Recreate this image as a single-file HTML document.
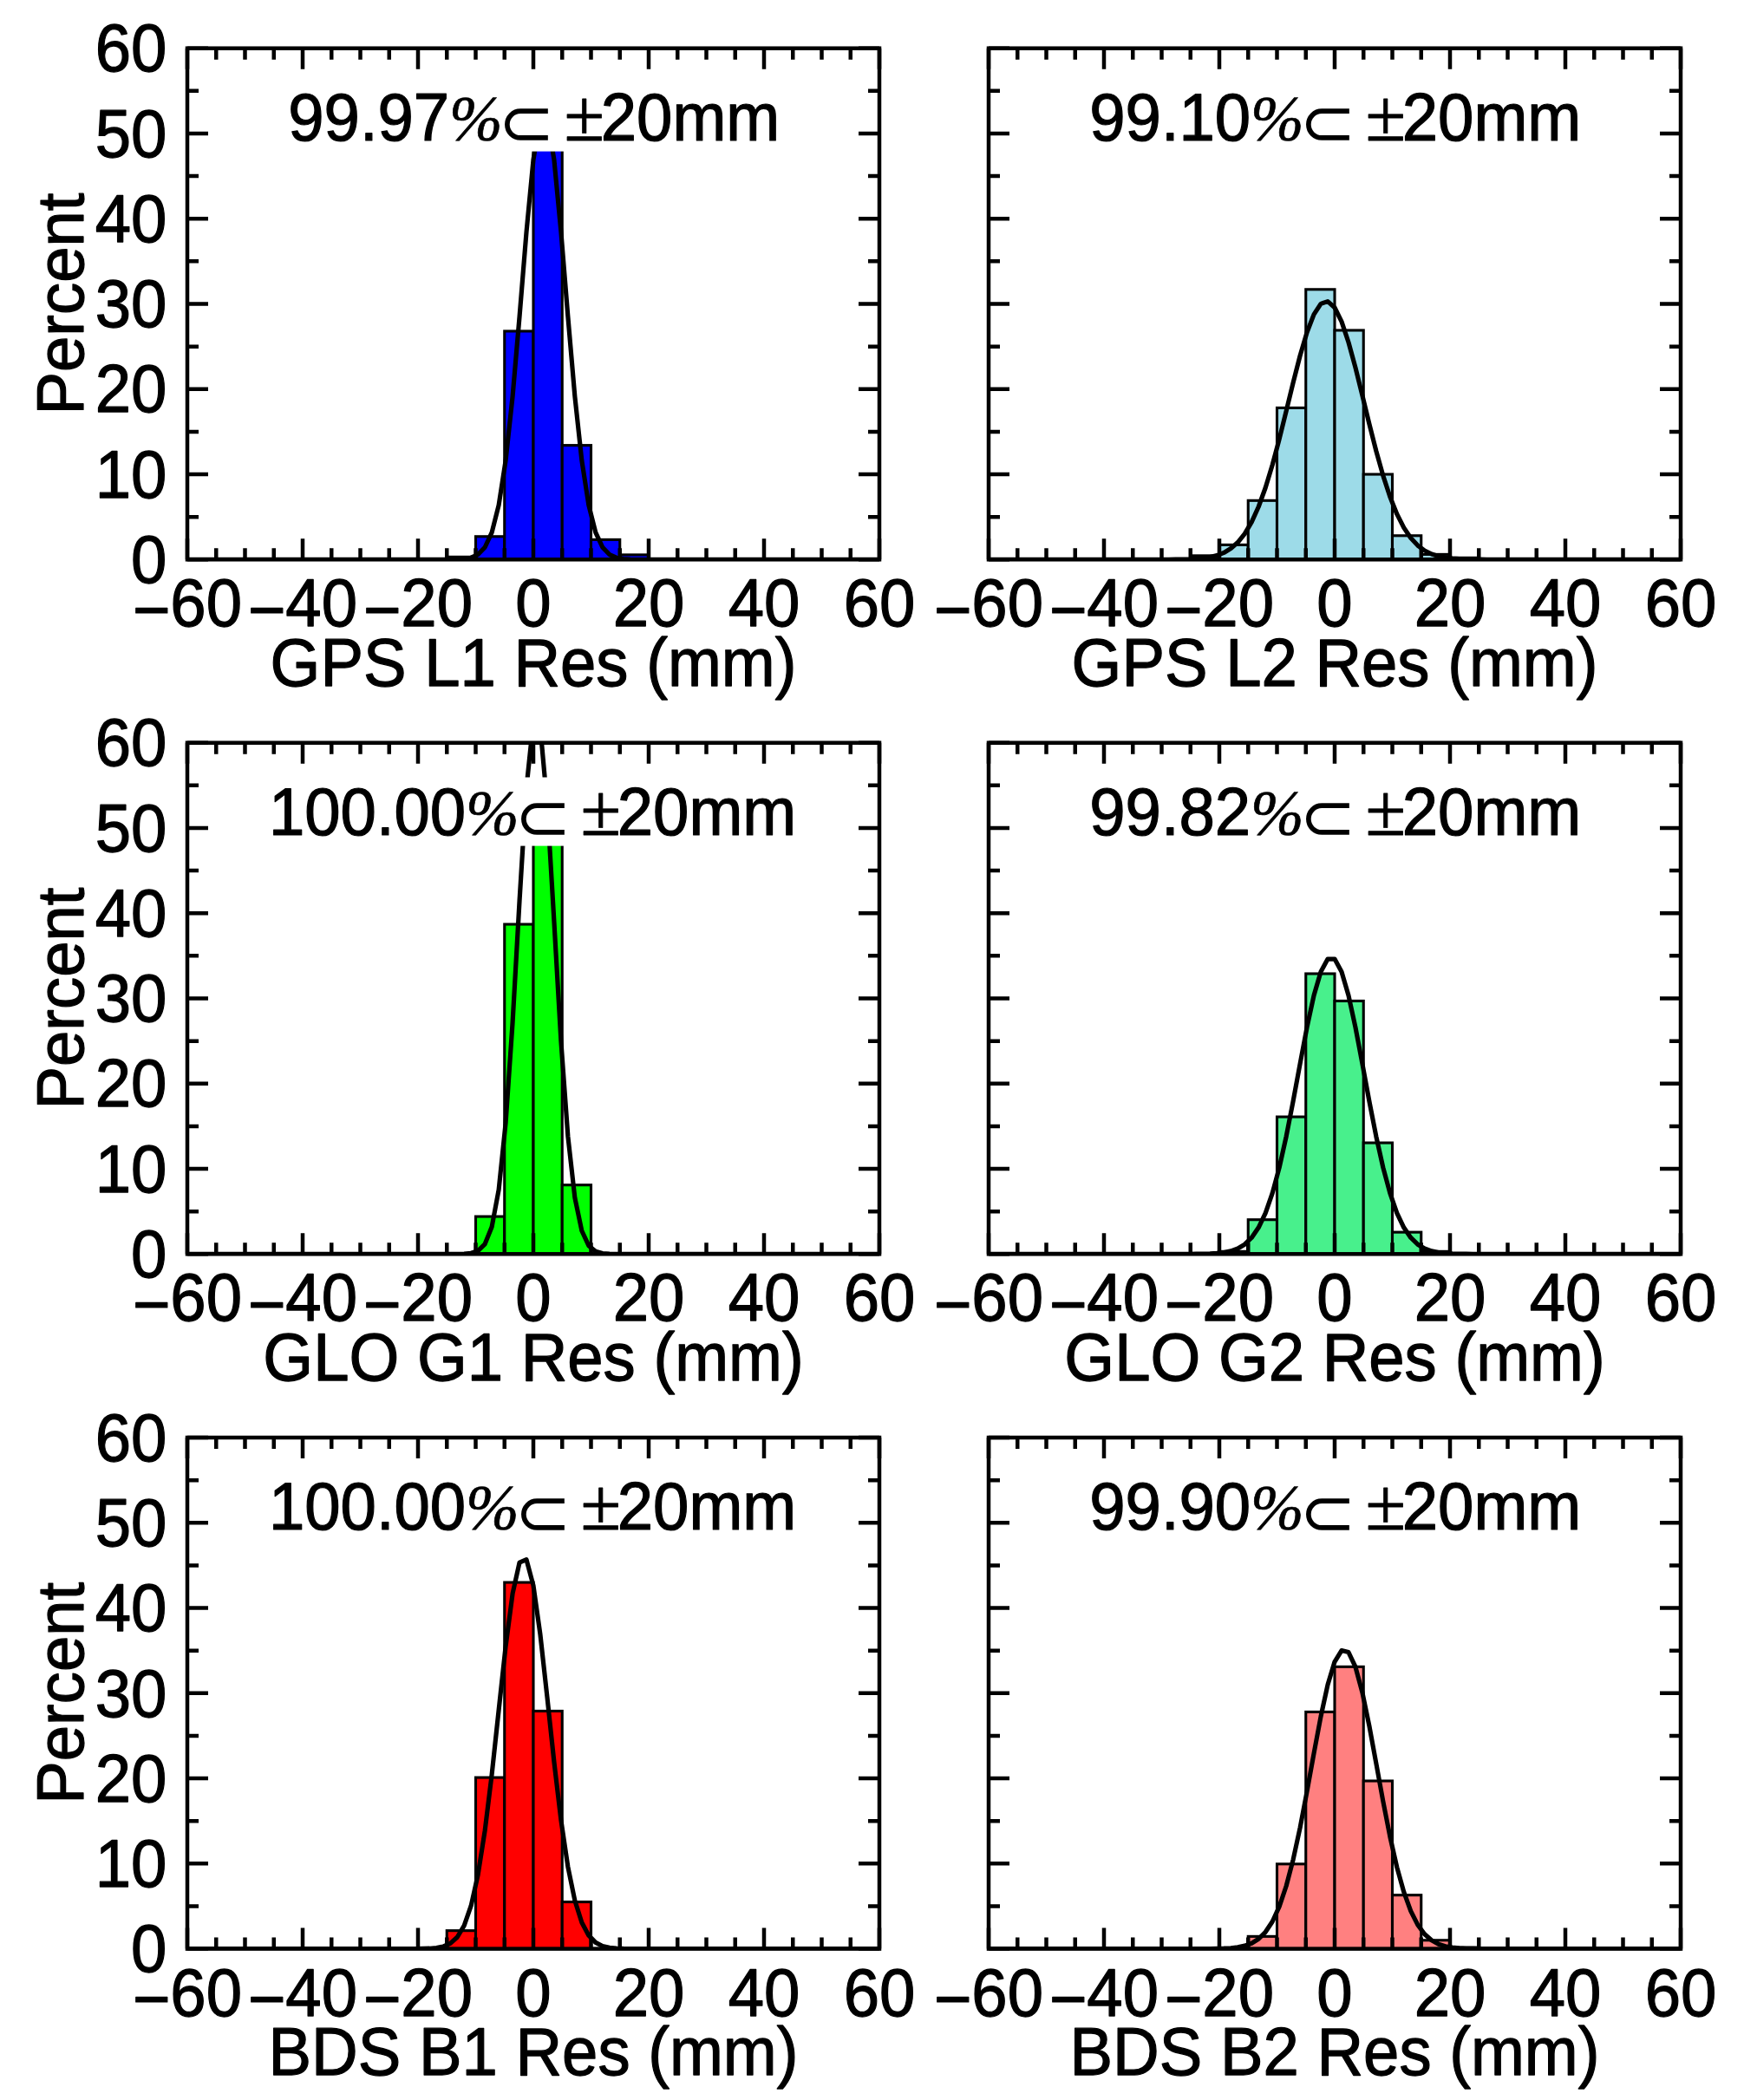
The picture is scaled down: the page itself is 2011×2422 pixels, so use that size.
<!DOCTYPE html>
<html><head><meta charset="utf-8"><title>Residual histograms</title>
<style>html,body{margin:0;padding:0;background:#fff}svg{display:block}text{font-family:"Liberation Sans",sans-serif;font-size:74.3px;fill:#000;stroke:#000;stroke-width:1.2;stroke-linejoin:round}.sy{font-family:"Liberation Serif",serif}.dj{font-family:"DejaVu Sans",sans-serif}.ns{stroke:none}</style></head><body>
<svg width="2011" height="2422" viewBox="0 0 2011 2422">
<rect width="2011" height="2422" fill="#fff"/>
<clipPath id="c0"><rect x="216" y="55.7" width="798" height="589.6"/></clipPath>
<g clip-path="url(#c0)">
<rect x="515.25" y="642.35" width="33.25" height="2.95" fill="#0000ff" stroke="#000" stroke-width="3.1"/>
<rect x="548.5" y="618.77" width="33.25" height="26.53" fill="#0000ff" stroke="#000" stroke-width="3.1"/>
<rect x="581.75" y="381.95" width="33.25" height="263.35" fill="#0000ff" stroke="#000" stroke-width="3.1"/>
<rect x="615" y="109.75" width="33.25" height="535.55" fill="#0000ff" stroke="#000" stroke-width="3.1"/>
<rect x="648.25" y="513.62" width="33.25" height="131.68" fill="#0000ff" stroke="#000" stroke-width="3.1"/>
<rect x="681.5" y="622.4" width="33.25" height="22.9" fill="#0000ff" stroke="#000" stroke-width="3.1"/>
<rect x="714.75" y="639.9" width="33.25" height="5.4" fill="#0000ff" stroke="#000" stroke-width="3.1"/>
<polyline points="216,645.3 223.98,645.3 231.96,645.3 239.94,645.3 247.92,645.3 255.9,645.3 263.88,645.3 271.86,645.3 279.84,645.3 287.82,645.3 295.8,645.3 303.78,645.3 311.76,645.3 319.74,645.3 327.72,645.3 335.7,645.3 343.68,645.3 351.66,645.3 359.64,645.3 367.62,645.3 375.6,645.3 383.58,645.3 391.56,645.3 399.54,645.3 407.52,645.3 415.5,645.3 423.48,645.3 431.46,645.3 439.44,645.3 447.42,645.3 455.4,645.3 463.38,645.3 471.36,645.3 479.34,645.3 487.32,645.3 495.3,645.3 503.28,645.3 511.26,645.29 519.24,645.24 527.22,645.09 535.2,644.59 543.18,643.19 551.16,639.57 559.14,631.24 567.12,614.08 575.1,582.55 583.08,531.16 591.06,457.37 599.04,365.25 607.02,267.59 615,184.22 622.98,135.86 630.96,135.86 638.94,184.22 646.92,267.59 654.9,365.25 662.88,457.37 670.86,531.16 678.84,582.55 686.82,614.08 694.8,631.24 702.78,639.57 710.76,643.19 718.74,644.59 726.72,645.09 734.7,645.24 742.68,645.29 750.66,645.3 758.64,645.3 766.62,645.3 774.6,645.3 782.58,645.3 790.56,645.3 798.54,645.3 806.52,645.3 814.5,645.3 822.48,645.3 830.46,645.3 838.44,645.3 846.42,645.3 854.4,645.3 862.38,645.3 870.36,645.3 878.34,645.3 886.32,645.3 894.3,645.3 902.28,645.3 910.26,645.3 918.24,645.3 926.22,645.3 934.2,645.3 942.18,645.3 950.16,645.3 958.14,645.3 966.12,645.3 974.1,645.3 982.08,645.3 990.06,645.3 998.04,645.3 1006.02,645.3 1014,645.3" fill="none" stroke="#000" stroke-width="5.2" stroke-linejoin="round"/>
</g>
<rect x="321" y="95.5" width="588" height="79.1" fill="#fff"/>
<text text-anchor="end" transform="translate(518.2 162) scale(1 1.04)">99.97</text>
<text class="sy" style="font-style:italic;font-size:74px;stroke-width:0.7" x="518" y="162">%</text>
<text class="dj ns" style="font-size:78px" x="574.2" y="168.3">⊂</text>
<text class="sy" style="font-size:85px;stroke-width:0.8" x="650.4" y="162">±</text>
<text transform="translate(692.8 162) scale(1 1.04)">20mm</text>
<rect x="216" y="55.7" width="798" height="589.6" fill="none" stroke="#000" stroke-width="4.5"/>
<path d="M216 55.7v24M216 645.3v-24M249.25 55.7v13M249.25 645.3v-13M282.5 55.7v13M282.5 645.3v-13M315.75 55.7v13M315.75 645.3v-13M349 55.7v24M349 645.3v-24M382.25 55.7v13M382.25 645.3v-13M415.5 55.7v13M415.5 645.3v-13M448.75 55.7v13M448.75 645.3v-13M482 55.7v24M482 645.3v-24M515.25 55.7v13M515.25 645.3v-13M548.5 55.7v13M548.5 645.3v-13M581.75 55.7v13M581.75 645.3v-13M615 55.7v24M615 645.3v-24M648.25 55.7v13M648.25 645.3v-13M681.5 55.7v13M681.5 645.3v-13M714.75 55.7v13M714.75 645.3v-13M748 55.7v24M748 645.3v-24M781.25 55.7v13M781.25 645.3v-13M814.5 55.7v13M814.5 645.3v-13M847.75 55.7v13M847.75 645.3v-13M881 55.7v24M881 645.3v-24M914.25 55.7v13M914.25 645.3v-13M947.5 55.7v13M947.5 645.3v-13M980.75 55.7v13M980.75 645.3v-13M1014 55.7v24M1014 645.3v-24M216 645.3h24M1014 645.3h-24M216 596.17h13M1014 596.17h-13M216 547.03h24M1014 547.03h-24M216 497.9h13M1014 497.9h-13M216 448.77h24M1014 448.77h-24M216 399.63h13M1014 399.63h-13M216 350.5h24M1014 350.5h-24M216 301.37h13M1014 301.37h-13M216 252.23h24M1014 252.23h-24M216 203.1h13M1014 203.1h-13M216 153.97h24M1014 153.97h-24M216 104.83h13M1014 104.83h-13M216 55.7h24M1014 55.7h-24" stroke="#000" stroke-width="4.5" fill="none"/>
<text text-anchor="middle" transform="translate(216 722.3) scale(1 1.05)"><tspan dy="7.2">−</tspan><tspan dy="-7.2">60</tspan></text>
<text text-anchor="middle" transform="translate(349 722.3) scale(1 1.05)"><tspan dy="7.2">−</tspan><tspan dy="-7.2">40</tspan></text>
<text text-anchor="middle" transform="translate(482 722.3) scale(1 1.05)"><tspan dy="7.2">−</tspan><tspan dy="-7.2">20</tspan></text>
<text text-anchor="middle" transform="translate(615 722.3) scale(1 1.05)">0</text>
<text text-anchor="middle" transform="translate(748 722.3) scale(1 1.05)">20</text>
<text text-anchor="middle" transform="translate(881 722.3) scale(1 1.05)">40</text>
<text text-anchor="middle" transform="translate(1014 722.3) scale(1 1.05)">60</text>
<text text-anchor="middle" transform="translate(615 790.6) scale(1 1.055)">GPS L1 Res (mm)</text>
<text text-anchor="end" transform="translate(192.3 672) scale(1 1.05)">0</text>
<text text-anchor="end" transform="translate(192.3 573.73) scale(1 1.05)">10</text>
<text text-anchor="end" transform="translate(192.3 475.47) scale(1 1.05)">20</text>
<text text-anchor="end" transform="translate(192.3 377.2) scale(1 1.05)">30</text>
<text text-anchor="end" transform="translate(192.3 278.93) scale(1 1.05)">40</text>
<text text-anchor="end" transform="translate(192.3 180.67) scale(1 1.05)">50</text>
<text text-anchor="end" transform="translate(192.3 82.4) scale(1 1.05)">60</text>
<text transform="translate(96 350.5) rotate(-90) scale(1 1.03)" text-anchor="middle">Percent</text>
<clipPath id="c1"><rect x="1140" y="55.7" width="798" height="589.6"/></clipPath>
<g clip-path="url(#c1)">
<rect x="1372.75" y="640.88" width="33.25" height="4.42" fill="#9ddbe8" stroke="#000" stroke-width="3.1"/>
<rect x="1406" y="628.4" width="33.25" height="16.9" fill="#9ddbe8" stroke="#000" stroke-width="3.1"/>
<rect x="1439.25" y="577.3" width="33.25" height="68" fill="#9ddbe8" stroke="#000" stroke-width="3.1"/>
<rect x="1472.5" y="470.39" width="33.25" height="174.91" fill="#9ddbe8" stroke="#000" stroke-width="3.1"/>
<rect x="1505.75" y="333.79" width="33.25" height="311.51" fill="#9ddbe8" stroke="#000" stroke-width="3.1"/>
<rect x="1539" y="380.96" width="33.25" height="264.34" fill="#9ddbe8" stroke="#000" stroke-width="3.1"/>
<rect x="1572.25" y="547.03" width="33.25" height="98.27" fill="#9ddbe8" stroke="#000" stroke-width="3.1"/>
<rect x="1605.5" y="617.79" width="33.25" height="27.51" fill="#9ddbe8" stroke="#000" stroke-width="3.1"/>
<rect x="1638.75" y="639.4" width="33.25" height="5.9" fill="#9ddbe8" stroke="#000" stroke-width="3.1"/>
<rect x="1672" y="643.33" width="33.25" height="1.97" fill="#9ddbe8" stroke="#000" stroke-width="3.1"/>
<polyline points="1140,645.3 1147.98,645.3 1155.96,645.3 1163.94,645.3 1171.92,645.3 1179.9,645.3 1187.88,645.3 1195.86,645.3 1203.84,645.3 1211.82,645.3 1219.8,645.3 1227.78,645.3 1235.76,645.3 1243.74,645.3 1251.72,645.3 1259.7,645.3 1267.68,645.3 1275.66,645.3 1283.64,645.3 1291.62,645.3 1299.6,645.3 1307.58,645.3 1315.56,645.3 1323.54,645.3 1331.52,645.29 1339.5,645.28 1347.48,645.25 1355.46,645.19 1363.44,645.07 1371.42,644.85 1379.4,644.45 1387.38,643.74 1395.36,642.53 1403.34,640.55 1411.32,637.4 1419.3,632.6 1427.28,625.56 1435.26,615.6 1443.24,602.09 1451.22,584.49 1459.2,562.51 1467.18,536.29 1475.16,506.45 1483.14,474.22 1491.12,441.41 1499.1,410.26 1507.08,383.21 1515.06,362.61 1523.04,350.37 1531.02,347.66 1539,354.75 1546.98,370.95 1554.96,394.72 1562.94,423.92 1570.92,456.11 1578.9,488.91 1586.88,520.26 1594.86,548.59 1602.84,572.95 1610.82,592.94 1618.8,608.65 1626.78,620.49 1634.76,629.05 1642.74,635 1650.72,638.99 1658.7,641.56 1666.68,643.16 1674.66,644.11 1682.64,644.66 1690.62,644.97 1698.6,645.13 1706.58,645.22 1714.56,645.26 1722.54,645.28 1730.52,645.29 1738.5,645.3 1746.48,645.3 1754.46,645.3 1762.44,645.3 1770.42,645.3 1778.4,645.3 1786.38,645.3 1794.36,645.3 1802.34,645.3 1810.32,645.3 1818.3,645.3 1826.28,645.3 1834.26,645.3 1842.24,645.3 1850.22,645.3 1858.2,645.3 1866.18,645.3 1874.16,645.3 1882.14,645.3 1890.12,645.3 1898.1,645.3 1906.08,645.3 1914.06,645.3 1922.04,645.3 1930.02,645.3 1938,645.3" fill="none" stroke="#000" stroke-width="5.2" stroke-linejoin="round"/>
</g>
<rect x="1245" y="95.5" width="588" height="79.1" fill="#fff"/>
<text text-anchor="end" transform="translate(1442.2 162) scale(1 1.04)">99.10</text>
<text class="sy" style="font-style:italic;font-size:74px;stroke-width:0.7" x="1442" y="162">%</text>
<text class="dj ns" style="font-size:78px" x="1498.2" y="168.3">⊂</text>
<text class="sy" style="font-size:85px;stroke-width:0.8" x="1574.4" y="162">±</text>
<text transform="translate(1616.8 162) scale(1 1.04)">20mm</text>
<rect x="1140" y="55.7" width="798" height="589.6" fill="none" stroke="#000" stroke-width="4.5"/>
<path d="M1140 55.7v24M1140 645.3v-24M1173.25 55.7v13M1173.25 645.3v-13M1206.5 55.7v13M1206.5 645.3v-13M1239.75 55.7v13M1239.75 645.3v-13M1273 55.7v24M1273 645.3v-24M1306.25 55.7v13M1306.25 645.3v-13M1339.5 55.7v13M1339.5 645.3v-13M1372.75 55.7v13M1372.75 645.3v-13M1406 55.7v24M1406 645.3v-24M1439.25 55.7v13M1439.25 645.3v-13M1472.5 55.7v13M1472.5 645.3v-13M1505.75 55.7v13M1505.75 645.3v-13M1539 55.7v24M1539 645.3v-24M1572.25 55.7v13M1572.25 645.3v-13M1605.5 55.7v13M1605.5 645.3v-13M1638.75 55.7v13M1638.75 645.3v-13M1672 55.7v24M1672 645.3v-24M1705.25 55.7v13M1705.25 645.3v-13M1738.5 55.7v13M1738.5 645.3v-13M1771.75 55.7v13M1771.75 645.3v-13M1805 55.7v24M1805 645.3v-24M1838.25 55.7v13M1838.25 645.3v-13M1871.5 55.7v13M1871.5 645.3v-13M1904.75 55.7v13M1904.75 645.3v-13M1938 55.7v24M1938 645.3v-24M1140 645.3h24M1938 645.3h-24M1140 596.17h13M1938 596.17h-13M1140 547.03h24M1938 547.03h-24M1140 497.9h13M1938 497.9h-13M1140 448.77h24M1938 448.77h-24M1140 399.63h13M1938 399.63h-13M1140 350.5h24M1938 350.5h-24M1140 301.37h13M1938 301.37h-13M1140 252.23h24M1938 252.23h-24M1140 203.1h13M1938 203.1h-13M1140 153.97h24M1938 153.97h-24M1140 104.83h13M1938 104.83h-13M1140 55.7h24M1938 55.7h-24" stroke="#000" stroke-width="4.5" fill="none"/>
<text text-anchor="middle" transform="translate(1140 722.3) scale(1 1.05)"><tspan dy="7.2">−</tspan><tspan dy="-7.2">60</tspan></text>
<text text-anchor="middle" transform="translate(1273 722.3) scale(1 1.05)"><tspan dy="7.2">−</tspan><tspan dy="-7.2">40</tspan></text>
<text text-anchor="middle" transform="translate(1406 722.3) scale(1 1.05)"><tspan dy="7.2">−</tspan><tspan dy="-7.2">20</tspan></text>
<text text-anchor="middle" transform="translate(1539 722.3) scale(1 1.05)">0</text>
<text text-anchor="middle" transform="translate(1672 722.3) scale(1 1.05)">20</text>
<text text-anchor="middle" transform="translate(1805 722.3) scale(1 1.05)">40</text>
<text text-anchor="middle" transform="translate(1938 722.3) scale(1 1.05)">60</text>
<text text-anchor="middle" transform="translate(1539 790.6) scale(1 1.055)">GPS L2 Res (mm)</text>
<clipPath id="c2"><rect x="216" y="856.7" width="798" height="589.6"/></clipPath>
<g clip-path="url(#c2)">
<rect x="548.5" y="1403.06" width="33.25" height="43.24" fill="#00ff00" stroke="#000" stroke-width="3.1"/>
<rect x="581.75" y="1066.01" width="33.25" height="380.29" fill="#00ff00" stroke="#000" stroke-width="3.1"/>
<rect x="615" y="966.76" width="33.25" height="479.54" fill="#00ff00" stroke="#000" stroke-width="3.1"/>
<rect x="648.25" y="1366.7" width="33.25" height="79.6" fill="#00ff00" stroke="#000" stroke-width="3.1"/>
<polyline points="216,1446.3 223.98,1446.3 231.96,1446.3 239.94,1446.3 247.92,1446.3 255.9,1446.3 263.88,1446.3 271.86,1446.3 279.84,1446.3 287.82,1446.3 295.8,1446.3 303.78,1446.3 311.76,1446.3 319.74,1446.3 327.72,1446.3 335.7,1446.3 343.68,1446.3 351.66,1446.3 359.64,1446.3 367.62,1446.3 375.6,1446.3 383.58,1446.3 391.56,1446.3 399.54,1446.3 407.52,1446.3 415.5,1446.3 423.48,1446.3 431.46,1446.3 439.44,1446.3 447.42,1446.3 455.4,1446.3 463.38,1446.3 471.36,1446.3 479.34,1446.3 487.32,1446.3 495.3,1446.3 503.28,1446.3 511.26,1446.3 519.24,1446.29 527.22,1446.25 535.2,1446.06 543.18,1445.3 551.16,1442.66 559.14,1434.8 567.12,1414.93 575.1,1372.28 583.08,1295.21 591.06,1179.55 599.04,1038.99 607.02,908.36 615,831.82 622.98,839.21 630.96,927.53 638.94,1062.89 646.92,1201.2 654.9,1310.79 662.88,1381.5 670.86,1419.5 678.84,1436.71 686.82,1443.33 694.8,1445.51 702.78,1446.12 710.76,1446.26 718.74,1446.29 726.72,1446.3 734.7,1446.3 742.68,1446.3 750.66,1446.3 758.64,1446.3 766.62,1446.3 774.6,1446.3 782.58,1446.3 790.56,1446.3 798.54,1446.3 806.52,1446.3 814.5,1446.3 822.48,1446.3 830.46,1446.3 838.44,1446.3 846.42,1446.3 854.4,1446.3 862.38,1446.3 870.36,1446.3 878.34,1446.3 886.32,1446.3 894.3,1446.3 902.28,1446.3 910.26,1446.3 918.24,1446.3 926.22,1446.3 934.2,1446.3 942.18,1446.3 950.16,1446.3 958.14,1446.3 966.12,1446.3 974.1,1446.3 982.08,1446.3 990.06,1446.3 998.04,1446.3 1006.02,1446.3 1014,1446.3" fill="none" stroke="#000" stroke-width="5.2" stroke-linejoin="round"/>
</g>
<rect x="321" y="896.5" width="588" height="79.1" fill="#fff"/>
<text text-anchor="end" transform="translate(537.2 963) scale(1 1.04)">100.00</text>
<text class="sy" style="font-style:italic;font-size:74px;stroke-width:0.7" x="537" y="963">%</text>
<text class="dj ns" style="font-size:78px" x="593.2" y="969.3">⊂</text>
<text class="sy" style="font-size:85px;stroke-width:0.8" x="669.4" y="963">±</text>
<text transform="translate(711.8 963) scale(1 1.04)">20mm</text>
<rect x="216" y="856.7" width="798" height="589.6" fill="none" stroke="#000" stroke-width="4.5"/>
<path d="M216 856.7v24M216 1446.3v-24M249.25 856.7v13M249.25 1446.3v-13M282.5 856.7v13M282.5 1446.3v-13M315.75 856.7v13M315.75 1446.3v-13M349 856.7v24M349 1446.3v-24M382.25 856.7v13M382.25 1446.3v-13M415.5 856.7v13M415.5 1446.3v-13M448.75 856.7v13M448.75 1446.3v-13M482 856.7v24M482 1446.3v-24M515.25 856.7v13M515.25 1446.3v-13M548.5 856.7v13M548.5 1446.3v-13M581.75 856.7v13M581.75 1446.3v-13M615 856.7v24M615 1446.3v-24M648.25 856.7v13M648.25 1446.3v-13M681.5 856.7v13M681.5 1446.3v-13M714.75 856.7v13M714.75 1446.3v-13M748 856.7v24M748 1446.3v-24M781.25 856.7v13M781.25 1446.3v-13M814.5 856.7v13M814.5 1446.3v-13M847.75 856.7v13M847.75 1446.3v-13M881 856.7v24M881 1446.3v-24M914.25 856.7v13M914.25 1446.3v-13M947.5 856.7v13M947.5 1446.3v-13M980.75 856.7v13M980.75 1446.3v-13M1014 856.7v24M1014 1446.3v-24M216 1446.3h24M1014 1446.3h-24M216 1397.17h13M1014 1397.17h-13M216 1348.03h24M1014 1348.03h-24M216 1298.9h13M1014 1298.9h-13M216 1249.77h24M1014 1249.77h-24M216 1200.63h13M1014 1200.63h-13M216 1151.5h24M1014 1151.5h-24M216 1102.37h13M1014 1102.37h-13M216 1053.23h24M1014 1053.23h-24M216 1004.1h13M1014 1004.1h-13M216 954.97h24M1014 954.97h-24M216 905.83h13M1014 905.83h-13M216 856.7h24M1014 856.7h-24" stroke="#000" stroke-width="4.5" fill="none"/>
<text text-anchor="middle" transform="translate(216 1523.3) scale(1 1.05)"><tspan dy="7.2">−</tspan><tspan dy="-7.2">60</tspan></text>
<text text-anchor="middle" transform="translate(349 1523.3) scale(1 1.05)"><tspan dy="7.2">−</tspan><tspan dy="-7.2">40</tspan></text>
<text text-anchor="middle" transform="translate(482 1523.3) scale(1 1.05)"><tspan dy="7.2">−</tspan><tspan dy="-7.2">20</tspan></text>
<text text-anchor="middle" transform="translate(615 1523.3) scale(1 1.05)">0</text>
<text text-anchor="middle" transform="translate(748 1523.3) scale(1 1.05)">20</text>
<text text-anchor="middle" transform="translate(881 1523.3) scale(1 1.05)">40</text>
<text text-anchor="middle" transform="translate(1014 1523.3) scale(1 1.05)">60</text>
<text text-anchor="middle" transform="translate(615 1591.6) scale(1 1.055)">GLO G1 Res (mm)</text>
<text text-anchor="end" transform="translate(192.3 1473) scale(1 1.05)">0</text>
<text text-anchor="end" transform="translate(192.3 1374.73) scale(1 1.05)">10</text>
<text text-anchor="end" transform="translate(192.3 1276.47) scale(1 1.05)">20</text>
<text text-anchor="end" transform="translate(192.3 1178.2) scale(1 1.05)">30</text>
<text text-anchor="end" transform="translate(192.3 1079.93) scale(1 1.05)">40</text>
<text text-anchor="end" transform="translate(192.3 981.67) scale(1 1.05)">50</text>
<text text-anchor="end" transform="translate(192.3 883.4) scale(1 1.05)">60</text>
<text transform="translate(96 1151.5) rotate(-90) scale(1 1.03)" text-anchor="middle">Percent</text>
<clipPath id="c3"><rect x="1140" y="856.7" width="798" height="589.6"/></clipPath>
<g clip-path="url(#c3)">
<rect x="1406" y="1443.35" width="33.25" height="2.95" fill="#48f08c" stroke="#000" stroke-width="3.1"/>
<rect x="1439.25" y="1406.7" width="33.25" height="39.6" fill="#48f08c" stroke="#000" stroke-width="3.1"/>
<rect x="1472.5" y="1288.09" width="33.25" height="158.21" fill="#48f08c" stroke="#000" stroke-width="3.1"/>
<rect x="1505.75" y="1123" width="33.25" height="323.3" fill="#48f08c" stroke="#000" stroke-width="3.1"/>
<rect x="1539" y="1154.45" width="33.25" height="291.85" fill="#48f08c" stroke="#000" stroke-width="3.1"/>
<rect x="1572.25" y="1318.06" width="33.25" height="128.24" fill="#48f08c" stroke="#000" stroke-width="3.1"/>
<rect x="1605.5" y="1421.14" width="33.25" height="25.16" fill="#48f08c" stroke="#000" stroke-width="3.1"/>
<rect x="1638.75" y="1443.35" width="33.25" height="2.95" fill="#48f08c" stroke="#000" stroke-width="3.1"/>
<polyline points="1140,1446.3 1147.98,1446.3 1155.96,1446.3 1163.94,1446.3 1171.92,1446.3 1179.9,1446.3 1187.88,1446.3 1195.86,1446.3 1203.84,1446.3 1211.82,1446.3 1219.8,1446.3 1227.78,1446.3 1235.76,1446.3 1243.74,1446.3 1251.72,1446.3 1259.7,1446.3 1267.68,1446.3 1275.66,1446.3 1283.64,1446.3 1291.62,1446.3 1299.6,1446.3 1307.58,1446.3 1315.56,1446.3 1323.54,1446.3 1331.52,1446.3 1339.5,1446.3 1347.48,1446.3 1355.46,1446.29 1363.44,1446.29 1371.42,1446.27 1379.4,1446.22 1387.38,1446.11 1395.36,1445.89 1403.34,1445.43 1411.32,1444.54 1419.3,1442.9 1427.28,1440.01 1435.26,1435.18 1443.24,1427.48 1451.22,1415.81 1459.2,1399.03 1467.18,1376.15 1475.16,1346.66 1483.14,1310.86 1491.12,1270.09 1499.1,1226.88 1507.08,1184.8 1515.06,1148.03 1523.04,1120.69 1531.02,1106.09 1539,1106.09 1546.98,1120.69 1554.96,1148.03 1562.94,1184.8 1570.92,1226.88 1578.9,1270.09 1586.88,1310.86 1594.86,1346.66 1602.84,1376.15 1610.82,1399.03 1618.8,1415.81 1626.78,1427.48 1634.76,1435.18 1642.74,1440.01 1650.72,1442.9 1658.7,1444.54 1666.68,1445.43 1674.66,1445.89 1682.64,1446.11 1690.62,1446.22 1698.6,1446.27 1706.58,1446.29 1714.56,1446.29 1722.54,1446.3 1730.52,1446.3 1738.5,1446.3 1746.48,1446.3 1754.46,1446.3 1762.44,1446.3 1770.42,1446.3 1778.4,1446.3 1786.38,1446.3 1794.36,1446.3 1802.34,1446.3 1810.32,1446.3 1818.3,1446.3 1826.28,1446.3 1834.26,1446.3 1842.24,1446.3 1850.22,1446.3 1858.2,1446.3 1866.18,1446.3 1874.16,1446.3 1882.14,1446.3 1890.12,1446.3 1898.1,1446.3 1906.08,1446.3 1914.06,1446.3 1922.04,1446.3 1930.02,1446.3 1938,1446.3" fill="none" stroke="#000" stroke-width="5.2" stroke-linejoin="round"/>
</g>
<rect x="1245" y="896.5" width="588" height="79.1" fill="#fff"/>
<text text-anchor="end" transform="translate(1442.2 963) scale(1 1.04)">99.82</text>
<text class="sy" style="font-style:italic;font-size:74px;stroke-width:0.7" x="1442" y="963">%</text>
<text class="dj ns" style="font-size:78px" x="1498.2" y="969.3">⊂</text>
<text class="sy" style="font-size:85px;stroke-width:0.8" x="1574.4" y="963">±</text>
<text transform="translate(1616.8 963) scale(1 1.04)">20mm</text>
<rect x="1140" y="856.7" width="798" height="589.6" fill="none" stroke="#000" stroke-width="4.5"/>
<path d="M1140 856.7v24M1140 1446.3v-24M1173.25 856.7v13M1173.25 1446.3v-13M1206.5 856.7v13M1206.5 1446.3v-13M1239.75 856.7v13M1239.75 1446.3v-13M1273 856.7v24M1273 1446.3v-24M1306.25 856.7v13M1306.25 1446.3v-13M1339.5 856.7v13M1339.5 1446.3v-13M1372.75 856.7v13M1372.75 1446.3v-13M1406 856.7v24M1406 1446.3v-24M1439.25 856.7v13M1439.25 1446.3v-13M1472.5 856.7v13M1472.5 1446.3v-13M1505.75 856.7v13M1505.75 1446.3v-13M1539 856.7v24M1539 1446.3v-24M1572.25 856.7v13M1572.25 1446.3v-13M1605.5 856.7v13M1605.5 1446.3v-13M1638.75 856.7v13M1638.75 1446.3v-13M1672 856.7v24M1672 1446.3v-24M1705.25 856.7v13M1705.25 1446.3v-13M1738.5 856.7v13M1738.5 1446.3v-13M1771.75 856.7v13M1771.75 1446.3v-13M1805 856.7v24M1805 1446.3v-24M1838.25 856.7v13M1838.25 1446.3v-13M1871.5 856.7v13M1871.5 1446.3v-13M1904.75 856.7v13M1904.75 1446.3v-13M1938 856.7v24M1938 1446.3v-24M1140 1446.3h24M1938 1446.3h-24M1140 1397.17h13M1938 1397.17h-13M1140 1348.03h24M1938 1348.03h-24M1140 1298.9h13M1938 1298.9h-13M1140 1249.77h24M1938 1249.77h-24M1140 1200.63h13M1938 1200.63h-13M1140 1151.5h24M1938 1151.5h-24M1140 1102.37h13M1938 1102.37h-13M1140 1053.23h24M1938 1053.23h-24M1140 1004.1h13M1938 1004.1h-13M1140 954.97h24M1938 954.97h-24M1140 905.83h13M1938 905.83h-13M1140 856.7h24M1938 856.7h-24" stroke="#000" stroke-width="4.5" fill="none"/>
<text text-anchor="middle" transform="translate(1140 1523.3) scale(1 1.05)"><tspan dy="7.2">−</tspan><tspan dy="-7.2">60</tspan></text>
<text text-anchor="middle" transform="translate(1273 1523.3) scale(1 1.05)"><tspan dy="7.2">−</tspan><tspan dy="-7.2">40</tspan></text>
<text text-anchor="middle" transform="translate(1406 1523.3) scale(1 1.05)"><tspan dy="7.2">−</tspan><tspan dy="-7.2">20</tspan></text>
<text text-anchor="middle" transform="translate(1539 1523.3) scale(1 1.05)">0</text>
<text text-anchor="middle" transform="translate(1672 1523.3) scale(1 1.05)">20</text>
<text text-anchor="middle" transform="translate(1805 1523.3) scale(1 1.05)">40</text>
<text text-anchor="middle" transform="translate(1938 1523.3) scale(1 1.05)">60</text>
<text text-anchor="middle" transform="translate(1539 1591.6) scale(1 1.055)">GLO G2 Res (mm)</text>
<clipPath id="c4"><rect x="216" y="1658" width="798" height="589.6"/></clipPath>
<g clip-path="url(#c4)">
<rect x="515.25" y="2226.67" width="33.25" height="20.93" fill="#ff0000" stroke="#000" stroke-width="3.1"/>
<rect x="548.5" y="2050.08" width="33.25" height="197.52" fill="#ff0000" stroke="#000" stroke-width="3.1"/>
<rect x="581.75" y="1825.05" width="33.25" height="422.55" fill="#ff0000" stroke="#000" stroke-width="3.1"/>
<rect x="615" y="1973.44" width="33.25" height="274.16" fill="#ff0000" stroke="#000" stroke-width="3.1"/>
<rect x="648.25" y="2193.55" width="33.25" height="54.05" fill="#ff0000" stroke="#000" stroke-width="3.1"/>
<polyline points="216,2247.6 223.98,2247.6 231.96,2247.6 239.94,2247.6 247.92,2247.6 255.9,2247.6 263.88,2247.6 271.86,2247.6 279.84,2247.6 287.82,2247.6 295.8,2247.6 303.78,2247.6 311.76,2247.6 319.74,2247.6 327.72,2247.6 335.7,2247.6 343.68,2247.6 351.66,2247.6 359.64,2247.6 367.62,2247.6 375.6,2247.6 383.58,2247.6 391.56,2247.6 399.54,2247.6 407.52,2247.6 415.5,2247.6 423.48,2247.6 431.46,2247.6 439.44,2247.6 447.42,2247.6 455.4,2247.6 463.38,2247.6 471.36,2247.59 479.34,2247.56 487.32,2247.47 495.3,2247.22 503.28,2246.55 511.26,2244.96 519.24,2241.44 527.22,2234.27 535.2,2220.87 543.18,2197.95 551.16,2162.16 559.14,2111.4 567.12,2046.45 575.1,1972.4 583.08,1898.8 591.06,1838.06 599.04,1802.13 607.02,1798.71 615,1828.56 622.98,1885.21 630.96,1957.27 638.94,2032.12 646.92,2099.45 654.9,2153.23 662.88,2191.92 670.86,2217.16 678.84,2232.19 686.82,2240.37 694.8,2244.46 702.78,2246.33 710.76,2247.13 718.74,2247.44 726.72,2247.55 734.7,2247.58 742.68,2247.6 750.66,2247.6 758.64,2247.6 766.62,2247.6 774.6,2247.6 782.58,2247.6 790.56,2247.6 798.54,2247.6 806.52,2247.6 814.5,2247.6 822.48,2247.6 830.46,2247.6 838.44,2247.6 846.42,2247.6 854.4,2247.6 862.38,2247.6 870.36,2247.6 878.34,2247.6 886.32,2247.6 894.3,2247.6 902.28,2247.6 910.26,2247.6 918.24,2247.6 926.22,2247.6 934.2,2247.6 942.18,2247.6 950.16,2247.6 958.14,2247.6 966.12,2247.6 974.1,2247.6 982.08,2247.6 990.06,2247.6 998.04,2247.6 1006.02,2247.6 1014,2247.6" fill="none" stroke="#000" stroke-width="5.2" stroke-linejoin="round"/>
</g>
<rect x="321" y="1697.8" width="588" height="79.1" fill="#fff"/>
<text text-anchor="end" transform="translate(537.2 1764.3) scale(1 1.04)">100.00</text>
<text class="sy" style="font-style:italic;font-size:74px;stroke-width:0.7" x="537" y="1764.3">%</text>
<text class="dj ns" style="font-size:78px" x="593.2" y="1770.6">⊂</text>
<text class="sy" style="font-size:85px;stroke-width:0.8" x="669.4" y="1764.3">±</text>
<text transform="translate(711.8 1764.3) scale(1 1.04)">20mm</text>
<rect x="216" y="1658" width="798" height="589.6" fill="none" stroke="#000" stroke-width="4.5"/>
<path d="M216 1658v24M216 2247.6v-24M249.25 1658v13M249.25 2247.6v-13M282.5 1658v13M282.5 2247.6v-13M315.75 1658v13M315.75 2247.6v-13M349 1658v24M349 2247.6v-24M382.25 1658v13M382.25 2247.6v-13M415.5 1658v13M415.5 2247.6v-13M448.75 1658v13M448.75 2247.6v-13M482 1658v24M482 2247.6v-24M515.25 1658v13M515.25 2247.6v-13M548.5 1658v13M548.5 2247.6v-13M581.75 1658v13M581.75 2247.6v-13M615 1658v24M615 2247.6v-24M648.25 1658v13M648.25 2247.6v-13M681.5 1658v13M681.5 2247.6v-13M714.75 1658v13M714.75 2247.6v-13M748 1658v24M748 2247.6v-24M781.25 1658v13M781.25 2247.6v-13M814.5 1658v13M814.5 2247.6v-13M847.75 1658v13M847.75 2247.6v-13M881 1658v24M881 2247.6v-24M914.25 1658v13M914.25 2247.6v-13M947.5 1658v13M947.5 2247.6v-13M980.75 1658v13M980.75 2247.6v-13M1014 1658v24M1014 2247.6v-24M216 2247.6h24M1014 2247.6h-24M216 2198.47h13M1014 2198.47h-13M216 2149.33h24M1014 2149.33h-24M216 2100.2h13M1014 2100.2h-13M216 2051.07h24M1014 2051.07h-24M216 2001.93h13M1014 2001.93h-13M216 1952.8h24M1014 1952.8h-24M216 1903.67h13M1014 1903.67h-13M216 1854.53h24M1014 1854.53h-24M216 1805.4h13M1014 1805.4h-13M216 1756.27h24M1014 1756.27h-24M216 1707.13h13M1014 1707.13h-13M216 1658h24M1014 1658h-24" stroke="#000" stroke-width="4.5" fill="none"/>
<text text-anchor="middle" transform="translate(216 2324.6) scale(1 1.05)"><tspan dy="7.2">−</tspan><tspan dy="-7.2">60</tspan></text>
<text text-anchor="middle" transform="translate(349 2324.6) scale(1 1.05)"><tspan dy="7.2">−</tspan><tspan dy="-7.2">40</tspan></text>
<text text-anchor="middle" transform="translate(482 2324.6) scale(1 1.05)"><tspan dy="7.2">−</tspan><tspan dy="-7.2">20</tspan></text>
<text text-anchor="middle" transform="translate(615 2324.6) scale(1 1.05)">0</text>
<text text-anchor="middle" transform="translate(748 2324.6) scale(1 1.05)">20</text>
<text text-anchor="middle" transform="translate(881 2324.6) scale(1 1.05)">40</text>
<text text-anchor="middle" transform="translate(1014 2324.6) scale(1 1.05)">60</text>
<text text-anchor="middle" transform="translate(615 2392.9) scale(1 1.055)">BDS B1 Res (mm)</text>
<text text-anchor="end" transform="translate(192.3 2274.3) scale(1 1.05)">0</text>
<text text-anchor="end" transform="translate(192.3 2176.03) scale(1 1.05)">10</text>
<text text-anchor="end" transform="translate(192.3 2077.77) scale(1 1.05)">20</text>
<text text-anchor="end" transform="translate(192.3 1979.5) scale(1 1.05)">30</text>
<text text-anchor="end" transform="translate(192.3 1881.23) scale(1 1.05)">40</text>
<text text-anchor="end" transform="translate(192.3 1782.97) scale(1 1.05)">50</text>
<text text-anchor="end" transform="translate(192.3 1684.7) scale(1 1.05)">60</text>
<text transform="translate(96 1952.8) rotate(-90) scale(1 1.03)" text-anchor="middle">Percent</text>
<clipPath id="c5"><rect x="1140" y="1658" width="798" height="589.6"/></clipPath>
<g clip-path="url(#c5)">
<rect x="1439.25" y="2233.35" width="33.25" height="14.25" fill="#ff8080" stroke="#000" stroke-width="3.1"/>
<rect x="1472.5" y="2149.82" width="33.25" height="97.78" fill="#ff8080" stroke="#000" stroke-width="3.1"/>
<rect x="1505.75" y="1974.42" width="33.25" height="273.18" fill="#ff8080" stroke="#000" stroke-width="3.1"/>
<rect x="1539" y="1922.34" width="33.25" height="325.26" fill="#ff8080" stroke="#000" stroke-width="3.1"/>
<rect x="1572.25" y="2054.01" width="33.25" height="193.59" fill="#ff8080" stroke="#000" stroke-width="3.1"/>
<rect x="1605.5" y="2185.69" width="33.25" height="61.91" fill="#ff8080" stroke="#000" stroke-width="3.1"/>
<rect x="1638.75" y="2237.77" width="33.25" height="9.83" fill="#ff8080" stroke="#000" stroke-width="3.1"/>
<rect x="1672" y="2246.13" width="33.25" height="1.47" fill="#ff8080" stroke="#000" stroke-width="3.1"/>
<polyline points="1140,2247.6 1147.98,2247.6 1155.96,2247.6 1163.94,2247.6 1171.92,2247.6 1179.9,2247.6 1187.88,2247.6 1195.86,2247.6 1203.84,2247.6 1211.82,2247.6 1219.8,2247.6 1227.78,2247.6 1235.76,2247.6 1243.74,2247.6 1251.72,2247.6 1259.7,2247.6 1267.68,2247.6 1275.66,2247.6 1283.64,2247.6 1291.62,2247.6 1299.6,2247.6 1307.58,2247.6 1315.56,2247.6 1323.54,2247.6 1331.52,2247.6 1339.5,2247.6 1347.48,2247.6 1355.46,2247.6 1363.44,2247.6 1371.42,2247.6 1379.4,2247.59 1387.38,2247.57 1395.36,2247.52 1403.34,2247.41 1411.32,2247.19 1419.3,2246.73 1427.28,2245.82 1435.26,2244.15 1443.24,2241.2 1451.22,2236.23 1459.2,2228.29 1467.18,2216.24 1475.16,2198.89 1483.14,2175.24 1491.12,2144.81 1499.1,2107.94 1507.08,2066.13 1515.06,2022.11 1523.04,1979.63 1531.02,1943.06 1539,1916.59 1546.98,1903.54 1554.96,1905.58 1562.94,1922.45 1570.92,1951.98 1578.9,1990.57 1586.88,2033.87 1594.86,2077.63 1602.84,2118.34 1610.82,2153.58 1618.8,2182.21 1626.78,2204.1 1634.76,2219.93 1642.74,2230.76 1650.72,2237.8 1658.7,2242.15 1666.68,2244.7 1674.66,2246.12 1682.64,2246.88 1690.62,2247.27 1698.6,2247.45 1706.58,2247.54 1714.56,2247.57 1722.54,2247.59 1730.52,2247.6 1738.5,2247.6 1746.48,2247.6 1754.46,2247.6 1762.44,2247.6 1770.42,2247.6 1778.4,2247.6 1786.38,2247.6 1794.36,2247.6 1802.34,2247.6 1810.32,2247.6 1818.3,2247.6 1826.28,2247.6 1834.26,2247.6 1842.24,2247.6 1850.22,2247.6 1858.2,2247.6 1866.18,2247.6 1874.16,2247.6 1882.14,2247.6 1890.12,2247.6 1898.1,2247.6 1906.08,2247.6 1914.06,2247.6 1922.04,2247.6 1930.02,2247.6 1938,2247.6" fill="none" stroke="#000" stroke-width="5.2" stroke-linejoin="round"/>
</g>
<rect x="1245" y="1697.8" width="588" height="79.1" fill="#fff"/>
<text text-anchor="end" transform="translate(1442.2 1764.3) scale(1 1.04)">99.90</text>
<text class="sy" style="font-style:italic;font-size:74px;stroke-width:0.7" x="1442" y="1764.3">%</text>
<text class="dj ns" style="font-size:78px" x="1498.2" y="1770.6">⊂</text>
<text class="sy" style="font-size:85px;stroke-width:0.8" x="1574.4" y="1764.3">±</text>
<text transform="translate(1616.8 1764.3) scale(1 1.04)">20mm</text>
<rect x="1140" y="1658" width="798" height="589.6" fill="none" stroke="#000" stroke-width="4.5"/>
<path d="M1140 1658v24M1140 2247.6v-24M1173.25 1658v13M1173.25 2247.6v-13M1206.5 1658v13M1206.5 2247.6v-13M1239.75 1658v13M1239.75 2247.6v-13M1273 1658v24M1273 2247.6v-24M1306.25 1658v13M1306.25 2247.6v-13M1339.5 1658v13M1339.5 2247.6v-13M1372.75 1658v13M1372.75 2247.6v-13M1406 1658v24M1406 2247.6v-24M1439.25 1658v13M1439.25 2247.6v-13M1472.5 1658v13M1472.5 2247.6v-13M1505.75 1658v13M1505.75 2247.6v-13M1539 1658v24M1539 2247.6v-24M1572.25 1658v13M1572.25 2247.6v-13M1605.5 1658v13M1605.5 2247.6v-13M1638.75 1658v13M1638.75 2247.6v-13M1672 1658v24M1672 2247.6v-24M1705.25 1658v13M1705.25 2247.6v-13M1738.5 1658v13M1738.5 2247.6v-13M1771.75 1658v13M1771.75 2247.6v-13M1805 1658v24M1805 2247.6v-24M1838.25 1658v13M1838.25 2247.6v-13M1871.5 1658v13M1871.5 2247.6v-13M1904.75 1658v13M1904.75 2247.6v-13M1938 1658v24M1938 2247.6v-24M1140 2247.6h24M1938 2247.6h-24M1140 2198.47h13M1938 2198.47h-13M1140 2149.33h24M1938 2149.33h-24M1140 2100.2h13M1938 2100.2h-13M1140 2051.07h24M1938 2051.07h-24M1140 2001.93h13M1938 2001.93h-13M1140 1952.8h24M1938 1952.8h-24M1140 1903.67h13M1938 1903.67h-13M1140 1854.53h24M1938 1854.53h-24M1140 1805.4h13M1938 1805.4h-13M1140 1756.27h24M1938 1756.27h-24M1140 1707.13h13M1938 1707.13h-13M1140 1658h24M1938 1658h-24" stroke="#000" stroke-width="4.5" fill="none"/>
<text text-anchor="middle" transform="translate(1140 2324.6) scale(1 1.05)"><tspan dy="7.2">−</tspan><tspan dy="-7.2">60</tspan></text>
<text text-anchor="middle" transform="translate(1273 2324.6) scale(1 1.05)"><tspan dy="7.2">−</tspan><tspan dy="-7.2">40</tspan></text>
<text text-anchor="middle" transform="translate(1406 2324.6) scale(1 1.05)"><tspan dy="7.2">−</tspan><tspan dy="-7.2">20</tspan></text>
<text text-anchor="middle" transform="translate(1539 2324.6) scale(1 1.05)">0</text>
<text text-anchor="middle" transform="translate(1672 2324.6) scale(1 1.05)">20</text>
<text text-anchor="middle" transform="translate(1805 2324.6) scale(1 1.05)">40</text>
<text text-anchor="middle" transform="translate(1938 2324.6) scale(1 1.05)">60</text>
<text text-anchor="middle" transform="translate(1539 2392.9) scale(1 1.055)">BDS B2 Res (mm)</text>
</svg></body></html>
